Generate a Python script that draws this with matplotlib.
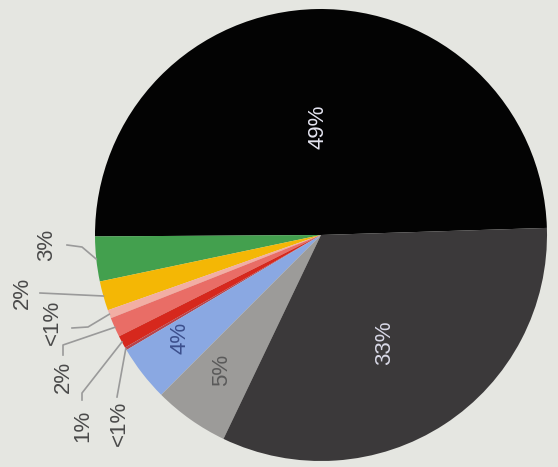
import numpy as np
import matplotlib
matplotlib.use("Agg")
import matplotlib.pyplot as plt

# slice shares (percent), counterclockwise from the black slice
shares = [49.6, 3.2, 2.1, 0.6, 1.4, 0.9, 0.2, 4.0, 5.4, 32.6]
colors = ["#030303", "#43a04e", "#f4b705", "#f2aea4", "#e96d66",
          "#d6281d", "#b8434a", "#8aa8e2", "#9c9b99", "#3b393a"]
labels = ["49%", "3%", "2%", "<1%", "2%", "1%", "<1%", "4%", "5%", "33%"]

W, H = 558, 467
bg = "#e5e6e1"
cx, cy, R = 321, 235, 226   # pixels, y down

def py(y):
    return H - y

fig = plt.figure(figsize=(W / 100, H / 100), dpi=100)
fig.patch.set_facecolor(bg)
ax = fig.add_axes([0, 0, 1, 1])
ax.set_xlim(0, W)
ax.set_ylim(0, H)
ax.axis("off")

start = 1.8
wedges, _ = ax.pie(shares, colors=colors, startangle=start, center=(cx, py(cy)),
                   radius=R, frame=True, wedgeprops=dict(linewidth=0))
ax.set_xlim(0, W)
ax.set_ylim(0, H)
ax.axis("off")

font = "Liberation Sans"

# labels inside the pie
inner = {0: ((318, 127), "#e4e4f0"), 9: ((385, 343), "#d8d8e6"),
         8: ((222, 370), "#5a5a5a"), 7: ((180, 338), "#3c4f8c")}
for i, ((x, y), c) in inner.items():
    ax.text(x, py(y), labels[i], rotation=90, ha="center", va="center",
            fontsize=16, color=c, family=font)

# outer labels with leader lines: text pos, then line points before the rim
outer = {
    1: ((47, 245), [(67, 245), (82, 247)]),
    2: ((22, 293), [(40, 293)]),
    3: ((52, 322), [(72, 328), (88, 327)]),
    4: ((63, 377), [(63, 355), (63, 345)]),
    5: ((83, 426), [(82, 400), (82, 393)]),
    6: ((119, 423), [(117, 397)]),
}
cum = np.cumsum([0] + shares)
for i, ((x, y), pts) in outer.items():
    mid = np.deg2rad(start + 3.6 * (cum[i] + cum[i + 1]) / 2)
    rim = (cx + R * np.cos(mid), cy - R * np.sin(mid))
    xs = [p[0] for p in pts] + [rim[0]]
    ys = [py(p[1]) for p in pts] + [py(rim[1])]
    ax.plot(xs, ys, color="#9a9a9a", lw=1.2)
    ax.text(x, py(y), labels[i], rotation=90, ha="center", va="center",
            fontsize=16, color="#4a4a4a", family=font)

fig.savefig("out.png", dpi=100, facecolor=bg)
